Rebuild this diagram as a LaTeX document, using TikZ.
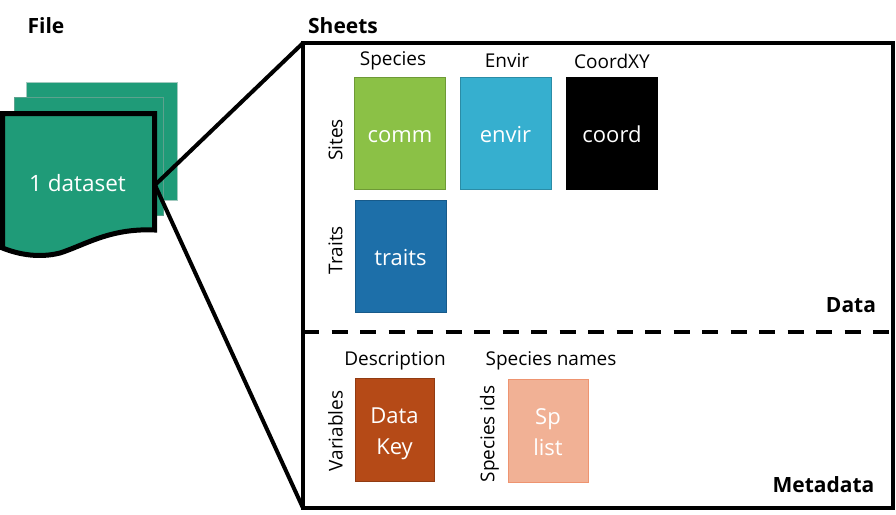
\documentclass[tikz,border=0pt]{standalone}
\usepackage{fontspec}
\setmainfont{Open Sans}
\definecolor{dsgreen}{HTML}{1F9B78}
\definecolor{dsgreendark}{HTML}{177A5E}
\definecolor{commfill}{HTML}{8BC146}
\definecolor{commline}{HTML}{6E9A36}
\definecolor{envirfill}{HTML}{36AFCF}
\definecolor{envirline}{HTML}{2B8CA6}
\definecolor{traitsfill}{HTML}{1D6FA9}
\definecolor{traitsline}{HTML}{175A8A}
\definecolor{keyfill}{HTML}{B54A17}
\definecolor{keyline}{HTML}{913B12}
\definecolor{spfill}{HTML}{F1B195}
\definecolor{spline}{HTML}{EE9470}
\begin{document}
\begin{tikzpicture}
		[x=1pt,y=-1pt,
		every node/.style={align=center,inner sep=0pt,outer sep=0pt},
		sheetbox/.style={minimum width=#1,text=white,font=\fontsize{22}{31}\selectfont,line width=1pt,
			execute at begin node={\rule{0pt}{19pt}}},
		sheetbox/.default=91pt,
		caption/.style={font=\fontsize{19}{23}\selectfont},
		heading/.style={font=\fontsize{21}{25}\selectfont\bfseries},
		]

		\useasboundingbox (0,0) rectangle (896,514);

		% stacked files
		\node[fill=dsgreen,draw=dsgreendark!40,minimum width=151pt,minimum height=118pt] (back) at (101.5,141) {};
		\node[fill=dsgreen,draw=dsgreendark!70,minimum width=149pt,minimum height=118pt] (middle) at (89,156) {};
		\draw[fill=dsgreen,line width=5pt,line join=miter]
			(2.5,113.5) -- (154.5,113.5) -- (154.5,230)
			.. controls (110,228) and (85,245) .. (60,253)
			.. controls (40,258) and (20,255) .. (2.5,248) -- cycle;
		\node[text=white,font=\fontsize{22.5}{27}\selectfont] (dataset) at (77.5,183) {1 dataset};
		\coordinate (docedge) at (155,185);

		\node[draw,line width=4pt,minimum width=590pt,minimum height=465pt] (sheets) at (598,275.5) {};
		\draw[line width=4pt,dash pattern=on 16pt off 12.5pt] (sheets.west |- 0,332) coordinate (split) -- (sheets.east |- split);

		\draw[line width=4pt] (docedge) -- (sheets.north west);
		\draw[line width=4pt] (docedge) -- (sheets.south west);

		\node[heading] (file) at (46,25.5) {File};
		\node[heading] (sheetstitle) at (343,25.5) {Sheets};
		\node[heading] (data) at (851,305) {Data};
		\node[heading] (metadata) at (823.5,485) {Metadata};

		\node[sheetbox,minimum height=112pt,fill=commfill,draw=commline] (comm) at (400,133) {\vphantom{d}comm};
		\node[sheetbox,minimum height=112pt,fill=envirfill,draw=envirline] (envir) at (505.5,133) {envir};
		\node[sheetbox,minimum height=112pt,fill=black,draw=black] (coord) at (612,133) {coord};
		\node[sheetbox,minimum height=112pt,fill=traitsfill,draw=traitsline] (traits) at (400.5,256) {traits};
		\node[sheetbox=79pt,minimum height=103pt,fill=keyfill,draw=keyline] (datakey) at (394.5,429.5) {\rule{0pt}{24pt}Data\\Key};
		\node[sheetbox=80pt,minimum height=103pt,fill=spfill,draw=spline] (splist) at (548,430.5) {\rule{0pt}{20pt}Sp\\list};

		\node[caption] (species) at (393,61) {Species};
		\node[caption] (envirtitle) at (507,61) {Envir};
		\node[caption] (coordxy) at (612,61) {CoordXY};
		\node[caption] (description) at (395,361) {Description};
		\node[caption] (spnames) at (551,361) {Species names};
		\node[caption,rotate=90] (sites) at (335.5,140) {Sites};
		\node[caption,rotate=90] (traitstitle) at (335.5,250) {Traits};
		\node[caption,rotate=90] (variables) at (335.5,431) {Variables};
		\node[caption,rotate=90] (spids) at (489.5,434) {Species ids};
	\end{tikzpicture}
\end{document}
